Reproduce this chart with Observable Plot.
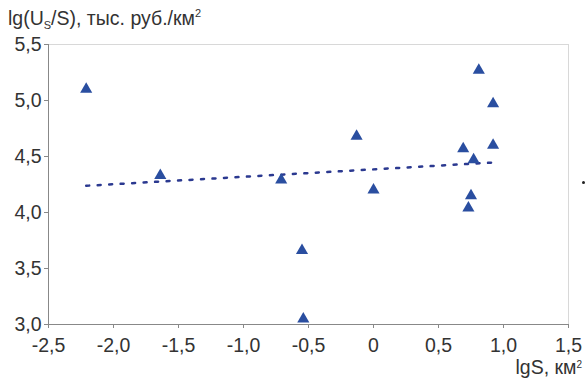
<!DOCTYPE html>
<html>
<head>
<meta charset="utf-8">
<script src="https://cdn.jsdelivr.net/npm/d3@7"></script>
<script src="https://cdn.jsdelivr.net/npm/@observablehq/plot@0.6"></script>
<style>
  html, body { margin: 0; padding: 0; background: #fff; }
  body { width: 587px; height: 380px; overflow: hidden; position: relative;
         font-family: "Liberation Sans", Arial, sans-serif; color: #333; }
  #title { height: 30px; box-sizing: border-box; padding: 8px 0 0 8px; font-size: 19.5px; line-height: 20px; white-space: nowrap; }
  #title sub { font-size: 11px; vertical-align: -4px; line-height: 0; }
  #title sup { font-size: 11px; vertical-align: 8px; line-height: 0; }
  #xlabel { position: absolute; right: 5px; top: 358px; font-size: 19.5px; line-height: 18px; white-space: nowrap; }
  #xlabel sup { font-size: 10px; vertical-align: 6px; line-height: 0; }
  #dot { position: absolute; left: 582px; top: 181px; width: 3px; height: 3px; background: #222; border-radius: 50%; }
</style>
</head>
<body>
<div id="title">lg(U<sub>S</sub>/S), тыс. руб./км<sup>2</sup></div>
<div id="chart"></div>
<div id="xlabel">lgS, км<sup>2</sup></div>
<div id="dot"></div>
<script>
const lgS   = [-2.21, -1.64, -0.71, -0.55, -0.54, -0.13, 0.00, 0.69, 0.77, 0.81, 0.92, 0.92, 0.75, 0.73];
const lgUsS = [ 5.10,  4.33,  4.29,  3.66,  3.05,  4.68, 4.20, 4.57, 4.47, 5.27, 4.97, 4.60, 4.15, 4.04];
const xTicks = [-2.5, -2, -1.5, -1, -0.5, 0, 0.5, 1, 1.5];
const yTicks = [3, 3.5, 4, 4.5, 5, 5.5];

const data = lgS.map((x, i) => ({x, y: lgUsS[i]}));
const fmt = v => v === 0 ? "0" : v.toFixed(1).replace(".", ",");

const chart = Plot.plot({
  width: 587,
  height: 326,
  marginLeft: 48,
  marginRight: 19,
  marginTop: 14,
  marginBottom: 32,
  style: {fontFamily: '"Liberation Sans", Arial, sans-serif', fontSize: "19.5px", color: "#333", background: "#fff", overflow: "visible"},
  x: {domain: [-2.5, 1.5]},
  y: {domain: [3, 5.5]},
  marks: [
    Plot.frame({stroke: "#d8d8d8"}),
    Plot.ruleX([-2.5], {stroke: "#888"}),
    Plot.ruleY([3], {stroke: "#888"}),
    Plot.axisX({ticks: xTicks, tickFormat: fmt, tickSize: 4, tickPadding: 10, stroke: "#888", fill: "#333", label: null}),
    Plot.axisY({ticks: yTicks, tickFormat: fmt, tickSize: 4, tickPadding: 3, stroke: "#888", fill: "#333", label: null}),
    Plot.linearRegressionY(data, {x: "x", y: "y", ci: 0, stroke: "#2b3990", strokeWidth: 2.5, strokeDasharray: "3,8.5"}),
    Plot.dot(data, {x: "x", y: "y", symbol: "triangle", r: 4.5, fill: "#2a4ea0", stroke: "none"})
  ]
});
document.getElementById("chart").appendChild(chart);
</script>
</body>
</html>
